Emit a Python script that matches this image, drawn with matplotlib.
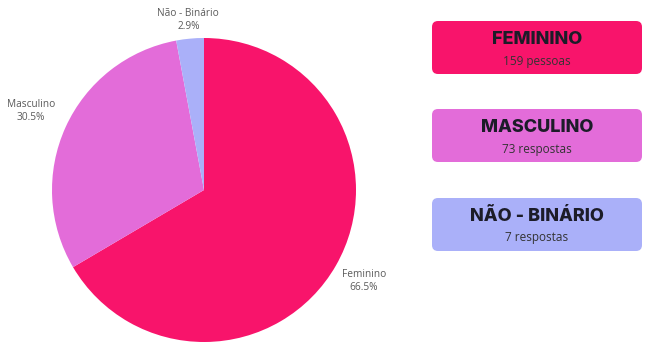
import matplotlib
matplotlib.use("Agg")
import matplotlib.pyplot as plt
from matplotlib.patches import FancyBboxPatch
import numpy as np

plt.rcParams['font.family'] = ['Open Sans', 'DejaVu Sans']

# Data
categories = ["Feminino", "Masculino", "Não - Binário"]
counts = [159, 73, 7]
box_titles = ["FEMININO", "MASCULINO", "NÃO - BINÁRIO"]
box_subtitles = ["159 pessoas", "73 respostas", "7 respostas"]

colors = ["#F8146B", "#E36CD9", "#AAB0F9"]
label_dist = [1.21, 1.25, 1.12]

W, H = 656, 347
fig = plt.figure(figsize=(W / 100, H / 100), dpi=100)
ax = fig.add_axes([0, 0, 1, 1])

cx, cy, r = 204, H - 190, 152
wedges, _ = ax.pie(counts, colors=colors, startangle=90, counterclock=False,
                   center=(cx, cy), radius=r, frame=True,
                   wedgeprops=dict(linewidth=0))

total = sum(counts)
for w, name, c, d in zip(wedges, categories, counts, label_dist):
    mid = np.deg2rad((w.theta1 + w.theta2) / 2)
    x = cx + r * d * np.cos(mid)
    y = cy + r * d * np.sin(mid)
    ax.text(x, y, f"{name}\n{100 * c / total:.1f}%", ha="center", va="center",
            fontsize=7.3, color="#5a5a5a", fontweight="normal", linespacing=1.25)

# Summary boxes on the right
box_x0, box_x1 = 432, 642
box_tops = [21, 109, 198]
box_h = 53
for top, title, sub, col in zip(box_tops, box_titles, box_subtitles, colors):
    y0 = H - top - box_h
    ax.add_patch(FancyBboxPatch((box_x0, y0), box_x1 - box_x0, box_h,
                                boxstyle="round,pad=0,rounding_size=6",
                                facecolor=col, edgecolor="none"))
    xc = (box_x0 + box_x1) / 2
    ax.text(xc, H - top - 18, title, ha="center", va="center",
            fontsize=13, fontweight="heavy", family=["Inter", "DejaVu Sans"],
            color="#1c1c28")
    ax.text(xc, H - top - 40, sub, ha="center", va="center",
            fontsize=8.5, color="#333333")

ax.set_xlim(0, W)
ax.set_ylim(0, H)
ax.set_aspect("equal")
ax.axis("off")

fig.savefig("out.png", dpi=100, facecolor="white")
